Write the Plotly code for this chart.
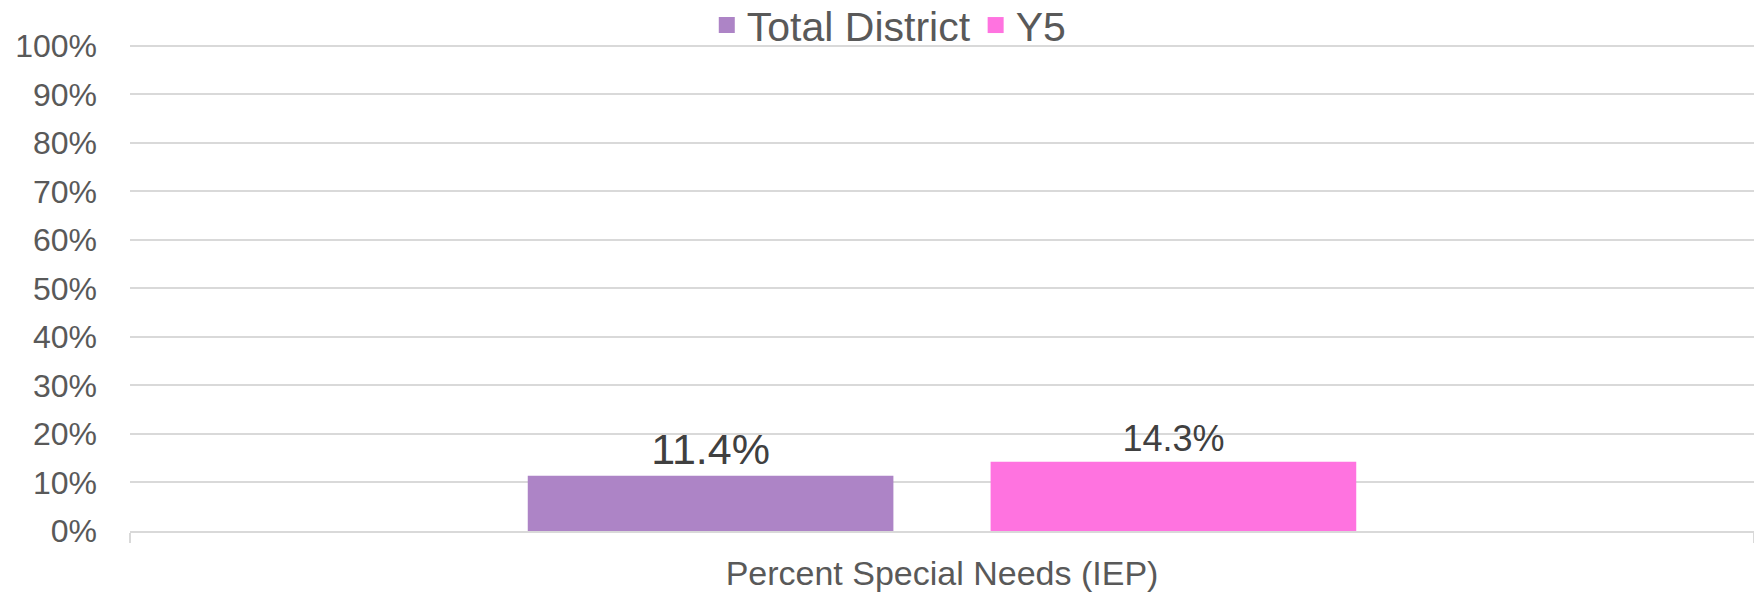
import plotly.graph_objects as go

categories = ["Percent Special Needs (IEP)"]
series_names = ["Total District", "Y5"]
series_colors = ["#AD84C6", "#FF73E0"]
total_district = [0.114]
y5 = [0.143]
y_tick_values = [0, 0.1, 0.2, 0.3, 0.4, 0.5, 0.6, 0.7, 0.8, 0.9, 1.0]
y_tick_labels = ["0%", "10%", "20%", "30%", "40%", "50%", "60%", "70%", "80%", "90%", "100%"]

FONT = "Arial, Liberation Sans, sans-serif"
TXT = "#595959"

fig = go.Figure()
fig.add_trace(go.Bar(
    name=series_names[0], x=categories, y=total_district,
    marker=dict(color=series_colors[0], line=dict(width=0)),
    texttemplate="%{y:.1%}", textposition="outside",
    textfont=dict(family=FONT, size=43, color="#404040"),
    cliponaxis=False, showlegend=False,
))
fig.add_trace(go.Bar(
    name=series_names[1], x=categories, y=y5,
    marker=dict(color=series_colors[1], line=dict(width=0)),
    texttemplate="%{y:.1%}", textposition="outside",
    textfont=dict(family=FONT, size=36, color="#404040"),
    cliponaxis=False, showlegend=False,
))
# legend entries (square swatches)
for name, col in zip(series_names, series_colors):
    fig.add_trace(go.Scatter(
        name=name, x=[None], y=[None], mode="markers",
        marker=dict(symbol="square", size=16, color=col, line=dict(width=0)),
        showlegend=True, hoverinfo="skip",
    ))

fig.update_layout(
    width=1754, height=592,
    margin=dict(l=130, r=0, t=44, b=61, autoexpand=False),
    paper_bgcolor="white", plot_bgcolor="white",
    barmode="group", bargap=0.43, bargroupgap=0.21,
    font=dict(family=FONT, color=TXT),
    showlegend=True,
    legend=dict(
        orientation="h", xref="container", yref="paper",
        x=0.507, xanchor="center", y=1.107, yanchor="top",
        font=dict(family=FONT, size=41, color=TXT),
        bgcolor="rgba(0,0,0,0)", itemsizing="trace", tracegroupgap=0,
    ),
)
fig.update_yaxes(
    range=[0, 1.004], tickvals=y_tick_values, ticktext=y_tick_labels,
    showgrid=True, gridcolor="#D9D9D9", gridwidth=2,
    zeroline=False, showline=False,
    tickfont=dict(family=FONT, size=32, color=TXT),
    ticks="", ticklabelstandoff=32,
)
fig.update_xaxes(
    showgrid=False, showline=True, linecolor="#D9D9D9", linewidth=2,
    ticks="outside", tickson="boundaries", ticklen=10, tickcolor="#D9D9D9", tickwidth=2,
    tickfont=dict(family=FONT, size=34, color=TXT),
    ticklabelstandoff=11,
)

fig.write_html(
    "out.html",
    config={"displayModeBar": False},
    post_script="document.body.style.margin='0';document.body.style.overflow='hidden';",
)
